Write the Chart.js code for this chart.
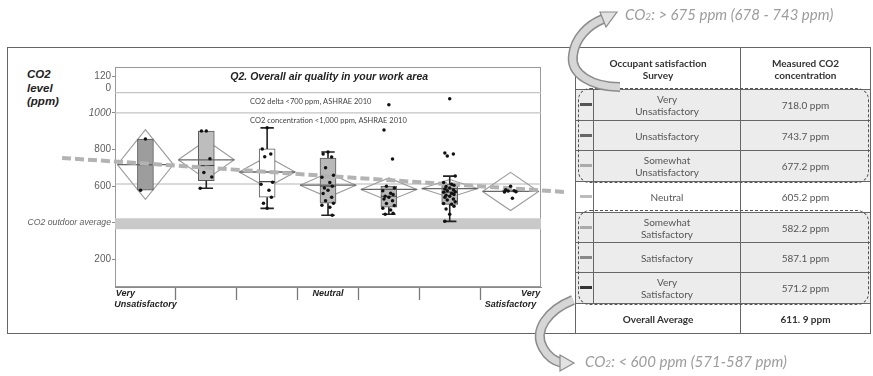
<!DOCTYPE html>
<html>
<head>
<meta charset="utf-8">
<script src="https://cdn.jsdelivr.net/npm/chart.js@4.4.0/dist/chart.umd.min.js"></script>
<style>
  html, body { margin: 0; padding: 0; background: #fff; }
  #wrap { position: relative; width: 873px; height: 376px; overflow: hidden; font-family: Lato, "Open Sans", sans-serif; }
  #frame { position: absolute; left: 7px; top: 47px; width: 569px; height: 287px; border: 1.5px solid #666; box-sizing: border-box; }
  #ytitle { position: absolute; left: 27px; top: 68px; font: bold italic 11.5px "Liberation Sans", Arial, sans-serif; line-height: 13.5px; color: #222; }
  #chartBox { position: absolute; left: 0; top: 0; width: 873px; height: 376px; }
  #tbl { position: absolute; left: 575px; top: 47px; width: 296px; height: 287px; border-collapse: collapse; table-layout: fixed; border: 1.5px solid #555; color: #555; font-size: 10px; }
  #tbl td, #tbl th { border: 1px solid #666; text-align: center; padding: 0; line-height: 12px; }
  #tbl th { font-weight: bold; color: #333; height: 41px; }
  #tbl tr.sh td { background: #ececec; }
  #tbl td.mk { position: relative; }
  #tbl td.mk span { position: absolute; left: 4px; top: 50%; width: 12px; height: 3px; margin-top: -2px; }
  #tbl tr.tot td { font-weight: bold; color: #333; }
  .grp { position: absolute; left: 578px; width: 291px; border: 1.5px dashed #555; border-radius: 12px; box-sizing: border-box; }
  .note { position: absolute; font: italic 15px Lato, sans-serif; color: #9c9c9c; white-space: nowrap; }
  .note small { font-size: 10px; }
  svg { position: absolute; left: 0; top: 0; }
</style>
</head>
<body>
<div id="wrap">
  <div id="frame"></div>
  <div id="ytitle">CO2<br>level<br>(ppm)</div>
  <div id="chartBox"><canvas id="c" width="873" height="376"></canvas></div>
  <table id="tbl">
    <colgroup><col style="width:18px"><col style="width:147px"><col></colgroup>
    <thead><tr><th colspan="2">Occupant satisfaction<br>Survey</th><th>Measured CO2<br>concentration</th></tr></thead>
    <tbody id="rows"></tbody>
  </table>
  <div class="grp" style="top:88px;height:95px"></div>
  <div class="grp" style="top:210px;height:95px"></div>
  <div class="note" style="left:625px;top:5px">CO<small>2</small>: &gt; 675 ppm (678 - 743 ppm)</div>
  <div class="note" style="left:585px;top:352px">CO<small>2</small>: &lt; 600 ppm (571-587 ppm)</div>
  <svg width="873" height="376">
    <path d="M620,87 C592,87 570,74 573,55 C575,38 588,25 603,19" fill="none" stroke="#8c8c8c" stroke-width="10"/>
    <path d="M620,87 C592,87 570,74 573,55 C575,38 588,25 603,19" fill="none" stroke="#d6d6d6" stroke-width="7"/>
    <polygon points="600,12 617,12 606,27" fill="#e2e2e2" stroke="#8c8c8c" stroke-width="1.2"/>
    <path d="M573,300 C548,310 533,330 543,348 C548,357 554,361 562,363" fill="none" stroke="#8c8c8c" stroke-width="10"/>
    <path d="M573,300 C548,310 533,330 543,348 C548,357 554,361 562,363" fill="none" stroke="#d6d6d6" stroke-width="7"/>
    <polygon points="560,355 574,363 560,371" fill="#e2e2e2" stroke="#8c8c8c" stroke-width="1.2"/>
  </svg>
</div>
<script>
// Survey answer categories (x axis) and their measured CO2 means (ppm)
const categories = ['Very Unsatisfactory', 'Unsatisfactory', 'Somewhat Unsatisfactory', 'Neutral',
                    'Somewhat Satisfactory', 'Satisfactory', 'Very Satisfactory'];
const meanCO2 = [718.0, 743.7, 677.2, 605.2, 582.2, 587.1, 571.2];
const overallMean = 611.9;

// 95% confidence half-heights of the means diamonds (ppm)
const diamondHalf = [190, 107, 85, 66, 63, 49, 104];

// Box plot statistics per category (ppm)
const whiskerLow  = [578, 589, 479, 441, 447, 408, 568];
const boxQ1       = [578, 630, 540, 507, 485, 501, 568];
const boxMedian   = [718, 712, 625, 600, 545, 567, 573];
const boxQ3       = [857, 901, 803, 753, 600, 611, 580];
const whiskerHigh = [857, 901, 918, 786, 600, 655, 580];

// Individual office readings per category (ppm)
const ptsVeryUnsat     = [857, 578];
const ptsUnsat         = [901, 901, 750, 675, 650, 589];
const ptsSomewhatUnsat = [918, 803, 775, 760, 622, 611, 578, 540, 507, 479];
const ptsNeutral       = [786, 775, 759, 700, 660, 649, 620, 600, 590, 578, 560, 540, 520, 507, 496, 485, 441];
const ptsSomewhatSat   = [1044, 907, 748, 600, 590, 575, 562, 555, 545, 540, 530, 520, 505, 495, 480, 470, 452, 447];
const ptsSat           = [1077, 781, 775, 764, 655, 620, 611, 605, 598, 590, 585, 580, 575, 570, 567, 560, 555,
                          550, 545, 540, 530, 525, 515, 505, 501, 490, 475, 447, 408];
const ptsVerySat       = [600, 580, 575, 573, 570, 568, 534];
const allPoints = [ptsVeryUnsat, ptsUnsat, ptsSomewhatUnsat, ptsNeutral, ptsSomewhatSat, ptsSat, ptsVerySat];

// Reference levels (ppm)
const ashraeLimit = 1000;
const ashraeDelta = 1110;
const outdoorAvg = 395;

// Trend across the categories (x in category units, y in ppm)
const trendX = [-0.37, 7.89];
const trendY = [754, 568];

// Axis ticks
const yTickValues = [200, 400, 600, 800, 1000, 1200];
const yTickLabels = ['200', 'CO2 outdoor average', '600', '800', '1000', ['', '120', '0']];
const xTickLabels = [['Very                ', 'Unsatisfactory'], '', '', 'Neutral', '', '', ['                Very', 'Satisfactory']];

const chartTitle = 'Q2. Overall air quality in your work area';
const deltaLabel = 'CO2 delta <700 ppm, ASHRAE 2010';
const limitLabel = 'CO2 concentration <1,000 ppm, ASHRAE 2010';

// Styling
const boxFill = ['#9d9d9d', '#bdbdbd', '#ffffff', '#b9b9b9', '#b9b9b9', '#b9b9b9', '#cfcfcf'];
const markColors = ['#555', '#666', '#aaa', '#bbb', '#aaa', '#888', '#333'];
const shadedRows = [true, true, true, false, true, true, true];
const jitter = [0, -0.08, 0.06, -0.04, 0.09, -0.1, 0.03, 0.07, -0.06];
const DW = 0.46;   // diamond half width, category units
const BW = 0.13;   // median line half width
const CW = 0.11;   // whisker cap half width

// ---- table ----
const tbody = document.getElementById('rows');
const rowH = [31, 30, 31, 31, 30, 30, 31];
categories.forEach((c, i) => {
  const tr = document.createElement('tr');
  if (shadedRows[i]) tr.className = 'sh';
  tr.style.height = rowH[i] + 'px';
  tr.innerHTML = '<td class="mk"><span style="background:' + markColors[i] + '"></span></td>' +
                 '<td>' + c.replace(' ', '<br>') + '</td>' +
                 '<td>' + meanCO2[i].toFixed(1) + ' ppm</td>';
  tbody.appendChild(tr);
});
const tot = document.createElement('tr');
tot.className = 'tot';
tot.innerHTML = '<td colspan="2">Overall Average</td><td>' + overallMean.toFixed(1).replace('.', '. ') + ' ppm</td>';
tbody.appendChild(tot);

// ---- chart data built from the arrays ----
const GAP = x => ({ x, y: null });
const pos = i => i + 1;

const refData = [
  { x: 0.5, y: ashraeLimit }, { x: 7.5, y: ashraeLimit }, GAP(7.5),
  { x: 0.5, y: ashraeDelta }, { x: 7.5, y: ashraeDelta }
];
const bandData = [{ x: 0.5, y: outdoorAvg }, { x: 7.5, y: outdoorAvg }];
const grandData = [{ x: 0.5, y: overallMean }, { x: 7.5, y: overallMean }];

const diamondData = [], meanLineData = [], whiskerData = [], medianData = [], pointData = [];
categories.forEach((c, i) => {
  const p = pos(i), m = meanCO2[i], h = diamondHalf[i];
  diamondData.push({ x: p - DW, y: m }, { x: p, y: m + h }, { x: p + DW, y: m }, { x: p, y: m - h }, { x: p - DW, y: m }, GAP(p));
  meanLineData.push({ x: p - DW, y: m }, { x: p + DW, y: m }, GAP(p));
  medianData.push({ x: p - BW, y: boxMedian[i] }, { x: p + BW, y: boxMedian[i] }, GAP(p));
  if (whiskerLow[i] < boxQ1[i]) {
    whiskerData.push({ x: p, y: boxQ1[i] }, { x: p, y: whiskerLow[i] }, GAP(p),
                     { x: p - CW, y: whiskerLow[i] }, { x: p + CW, y: whiskerLow[i] }, GAP(p));
  }
  if (whiskerHigh[i] > boxQ3[i]) {
    whiskerData.push({ x: p, y: boxQ3[i] }, { x: p, y: whiskerHigh[i] }, GAP(p),
                     { x: p - CW, y: whiskerHigh[i] }, { x: p + CW, y: whiskerHigh[i] }, GAP(p));
  }
  allPoints[i].forEach((v, j) => pointData.push({ x: p + jitter[j % jitter.length], y: v }));
});
const boxData = categories.map((c, i) => ({ x: pos(i), y: [boxQ1[i], boxQ3[i]] }));
const trendData = trendX.map((x, k) => ({ x, y: trendY[k] }));

const lineDs = (data, color, width, order, extra) => Object.assign({
  type: 'line', data, borderColor: color, borderWidth: width, pointRadius: 0,
  fill: false, tension: 0, spanGaps: false, order
}, extra || {});

// ---- plot frame and text drawn on the chart area ----
const plotText = {
  id: 'plotText',
  beforeDatasetsDraw(chart) {
    const { ctx, chartArea: a } = chart;
    ctx.save();
    ctx.strokeStyle = '#9a9a9a';
    ctx.lineWidth = 1;
    ctx.strokeRect(a.left + 0.5, a.top + 0.5, a.width - 1, a.height - 1);
    ctx.restore();
  },
  afterDatasetsDraw(chart) {
    const { ctx, chartArea: a, scales: { x, y } } = chart;
    ctx.save();
    ctx.fillStyle = '#222';
    ctx.font = 'bold italic 10.5px "Liberation Sans", Arial, sans-serif';
    ctx.textAlign = 'center';
    ctx.textBaseline = 'middle';
    ctx.fillText(chartTitle, x.getPixelForValue(4.02), a.top + 10);
    ctx.fillStyle = '#444';
    ctx.font = '7.5px Lato, sans-serif';
    ctx.textAlign = 'left';
    ctx.fillText(deltaLabel, x.getPixelForValue(2.72), y.getPixelForValue(ashraeDelta) + 9);
    ctx.fillText(limitLabel, x.getPixelForValue(2.72), y.getPixelForValue(ashraeLimit) + 8);
    ctx.restore();
  }
};

const xTickValues = [];
for (let v = 0.5; v <= 7.5; v += 0.5) xTickValues.push(v);

new Chart(document.getElementById('c'), {
  type: 'scatter',
  data: {
    datasets: [
      lineDs(refData, '#c4c4c4', 1.3, 10),
      lineDs(bandData, '#c9c9c9', 11, 9),
      lineDs(grandData, '#b5b5b5', 1.2, 8),
      lineDs(diamondData, '#9b9b9b', 1.1, 7),
      {
        type: 'bar', data: boxData, backgroundColor: boxFill, borderColor: '#5a5a5a',
        borderWidth: 1, borderSkipped: false, barThickness: 16, grouped: false, order: 6
      },
      lineDs(medianData, '#444', 1.2, 5),
      lineDs(whiskerData, '#222', 1.6, 4),
      lineDs(meanLineData, '#666', 1.3, 3),
      lineDs(trendData, '#b3b3b3', 4, 2, {
        clip: false, borderDash: [9, 4],
        pointRadius: [0, 5], pointStyle: 'triangle', rotation: 96,
        pointBackgroundColor: '#b3b3b3', pointBorderColor: '#b3b3b3'
      }),
      {
        type: 'scatter', data: pointData, pointRadius: 1.75, pointBackgroundColor: '#111',
        pointBorderWidth: 0, order: 1
      }
    ]
  },
  options: {
    responsive: false,
    animation: false,
    events: [],
    layout: { padding: { left: 10, top: 67, right: 332, bottom: 54 } },
    plugins: { legend: { display: false }, tooltip: { enabled: false }, title: { display: false } },
    scales: {
      x: {
        type: 'linear', min: 0.5, max: 7.5, offset: false,
        afterBuildTicks: s => { s.ticks = xTickValues.map(v => ({ value: v })); },
        afterFit: s => { s.height = 35; },
        border: { display: true, color: '#8a8a8a', width: 1 },
        grid: {
          offset: false, drawOnChartArea: false, tickLength: 13, tickWidth: 1.3,
          tickColor: c => (c.tick && c.tick.value % 1 !== 0 && c.tick.value > 0.5 && c.tick.value < 7.5) ? '#7a7a7a' : 'rgba(0,0,0,0)'
        },
        ticks: {
          autoSkip: false, maxRotation: 0, minRotation: 0, padding: -11.5,
          color: '#222',
          font: { family: '"Liberation Sans", Arial, sans-serif', size: 9, style: 'italic', weight: 'bold', lineHeight: 1.22 },
          callback: v => (v % 1 === 0 ? xTickLabels[v - 1] : '')
        }
      },
      y: {
        type: 'linear', min: 50, max: 1250,
        afterBuildTicks: s => { s.ticks = yTickValues.map(v => ({ value: v })); },
        afterFit: s => { s.width = 105; },
        border: { display: true, color: '#8a8a8a', width: 1 },
        grid: { drawOnChartArea: false, tickLength: 3, color: '#8a8a8a' },
        ticks: {
          padding: 1, color: '#5e5e5e',
          font: c => {
            const v = c.tick ? c.tick.value : 0;
            if (v === 400) return { family: '"Liberation Sans", Arial, sans-serif', size: 8.7, style: 'italic', lineHeight: 1.2 };
            if (v === 1000) return { family: '"Liberation Sans", Arial, sans-serif', size: 10, style: 'italic', lineHeight: 1.2 };
            return { family: '"Liberation Sans", Arial, sans-serif', size: 10, lineHeight: 1.2 };
          },
          callback: (v, i) => yTickLabels[i]
        }
      }
    }
  },
  plugins: [plotText]
});
</script>
</body>
</html>
